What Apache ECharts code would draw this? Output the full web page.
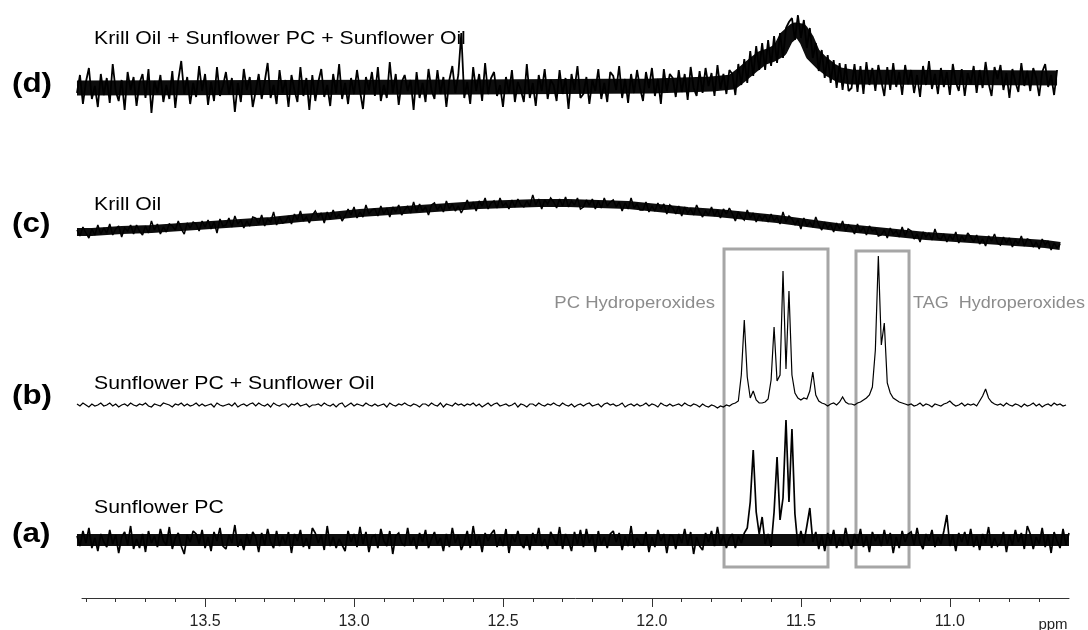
<!DOCTYPE html>
<html><head><meta charset="utf-8">
<script src="https://cdn.jsdelivr.net/npm/echarts@6/dist/echarts.min.js"></script>
<style>html,body{margin:0;padding:0;background:#fff}#c{width:1088px;height:630px}</style>
</head><body><div id="c"></div>
<script>
// ppm sampling of the traces (first point and spacing)
const PPM_START = 13.93, PPM_STEP = 0.01;
const majorTicks = [13.5, 13.0, 12.5, 12.0, 11.5, 11.0];
const minorTicks = [13.9,13.8,13.7,13.6,13.5,13.4,13.3,13.2,13.1,13.0,12.9,12.8,12.7,12.6,12.5,12.4,12.3,12.2,12.1,12.0,11.9,11.8,11.7,11.6,11.5,11.4,11.3,11.2,11.1,11.0,10.9,10.8,10.7];
const traceLabels = ["Krill Oil + Sunflower PC + Sunflower Oil", "Krill Oil", "Sunflower PC + Sunflower Oil", "Sunflower PC"];
const traceTags = ["(d)", "(c)", "(b)", "(a)"];
const regionLabels = ["PC Hydroperoxides", "TAG  Hydroperoxides"];
// vertical offsets of the stacked spectra (intensity units)
const offsets = [514, 367, 197, 62];
// boxed regions: ppm from/to, intensity low/high
const boxFrom = [11.758, 11.315];
const boxTo = [11.409, 11.137];
const boxLow = [35, 35];
const boxHigh = [353, 351];

// mean level (centre of the noise band) of each spectrum
const meanPpmD = [13.93, 12.6, 12.0, 11.80, 11.73, 11.70, 11.66, 11.63, 11.60, 11.57, 11.55, 11.52, 11.50, 11.48, 11.46, 11.43, 11.40, 11.37, 11.33, 10.64];
const meanD    = [0, 1, 2, 4, 6, 13, 23, 30, 33, 38, 50, 58, 57, 48, 34, 25, 18, 13, 11, 10];
const meanPpmC = [13.93, 13.88, 13.78, 13.68, 13.58, 13.48, 13.38, 13.28, 13.18, 13.08, 12.98, 12.88, 12.78, 12.68, 12.58, 12.48, 12.38, 12.28, 12.18, 12.08, 11.98, 11.88, 11.78, 11.68, 11.58, 11.48, 11.38, 11.28, 11.18, 11.08, 10.98, 10.88, 10.78, 10.68, 10.63];
const meanC    = [3, 3, 5, 6, 8, 10, 12, 14, 17, 19, 22, 24, 26, 28, 30, 31, 32, 32, 31, 30, 27, 24, 22, 19, 16, 12, 8, 5, 2, -1, -3, -5, -7, -9, -11];
const meanPpmA = [13.93, 10.60];
const meanA    = [0, 0];

// (d) Krill Oil + Sunflower PC + Sunflower Oil, 13.93 -> 10.64 ppm, step 0.01
const traceD = [
-5,13,-16,6,20,-11,2,-19,14,-7,
10,-15,24,-3,-13,8,-22,16,-2,11,
-18,5,14,-10,19,-25,7,-5,13,-14,
3,-11,17,-20,8,27,-6,11,-16,5,
-9,22,-3,14,-17,6,-13,21,-8,2,
16,-6,10,-24,5,-14,19,-2,11,-19,
-3,14,-11,6,25,-10,3,-16,18,-5,
8,-19,13,-2,-14,21,-8,10,-22,13,
-13,6,19,-9,3,-18,14,-5,24,-11,
5,-16,10,-6,18,-3,-21,11,-2,16,
-8,21,-13,3,-10,26,-5,14,-17,6,
13,-3,8,-22,16,-10,5,-14,19,-2,
-11,18,-6,11,-19,8,22,-5,13,55,
-10,6,-16,21,-3,14,-13,25,-6,10,
16,-8,3,-19,11,-5,18,-14,6,-2,
-14,24,-10,5,-18,13,-3,19,-11,8,
3,-13,18,-6,10,-21,14,-2,22,-10,
-6,11,-16,8,-3,19,-11,5,-14,16,
12,-2,22,-10,9,-15,14,-5,18,0,
-13,16,0,20,-8,9,-16,19,-3,14,
10,-9,18,-4,14,-12,21,0,-8,17,
-5,20,2,15,-8,23,-1,14,-6,18,
14,-7,24,3,29,5,37,12,42,18,
45,18,48,22,52,25,55,30,60,66,
70,48,73,50,68,40,60,30,45,17,
38,10,33,5,28,0,25,-2,24,-3,
0,24,-4,22,-6,26,3,20,-3,23,
7,-8,21,-2,25,1,16,-7,23,4,
18,-5,13,-9,22,3,27,-1,14,-6,
20,1,16,-7,24,6,-3,19,-8,15,
4,22,-5,18,0,26,5,-8,21,9,
23,-2,15,-10,19,6,-4,25,2,17,
-3,20,10,-8,16,24,1,13,-7,18
];

// (c) Krill Oil, 13.93 -> 10.63 ppm
const traceC = [
5,-1,8,2,-3,6,0,10,1,7,
2,11,0,6,9,-2,7,4,10,1,
10,4,0,9,2,14,5,11,1,8,
3,11,9,5,14,6,1,12,7,13,
11,4,14,8,15,6,13,2,16,9,
10,17,8,19,11,15,7,14,9,18,
17,11,20,9,16,13,23,10,18,12,
13,19,11,21,15,24,14,18,12,20,
24,18,22,12,23,16,25,17,21,14,
19,26,20,28,17,23,18,30,21,25,
26,19,29,21,27,18,28,23,30,20,
25,29,22,33,23,31,24,28,20,30,
32,25,30,23,34,26,31,24,29,22,
28,35,27,33,24,34,29,37,26,32,
34,27,37,29,32,26,35,28,36,30,
28,34,29,40,30,36,26,35,31,37,
33,27,36,29,38,28,34,30,37,26,
28,35,30,36,26,34,27,37,29,33,
35,28,33,24,32,26,37,27,31,25,
25,33,23,29,24,32,26,31,21,30,
27,21,29,19,28,22,26,20,30,23,
18,24,20,28,19,25,17,26,21,27,
21,14,23,18,15,25,17,22,13,20,
15,20,13,21,14,18,11,23,13,19,
16,10,15,6,17,9,13,8,18,10,
5,13,7,11,3,12,6,14,4,10,
7,1,11,3,8,0,9,4,6,-1,
0,5,-3,7,1,4,-2,8,-1,6,
4,-4,1,-7,3,-2,2,-5,6,-3,
-4,1,-7,0,-5,3,-8,-1,-6,2,
-2,-7,0,-9,-4,-11,-1,-6,1,-8,
-10,-2,-8,-3,-12,-5,-9,-1,-11,-4,
-5,-12,-7,-14,-4,-10,-6,-15,-8,-13,
-9
];

// (b) Sunflower PC + Sunflower Oil, 13.93 -> 10.61 ppm
const traceB = [
1,-1,2,0,-2,1,-1,0,2,-1,
0,2,-1,1,-2,0,1,-1,2,0,
-1,1,0,2,-1,-2,1,0,-1,2,
1,0,-2,1,0,2,-1,1,-1,0,
2,-1,1,-1,0,1,-2,2,0,-1,
0,1,-1,2,-2,0,1,-1,1,2,
-1,2,0,-1,1,-2,2,0,-1,1,
1,-2,1,0,2,-1,0,1,-2,0,
0,1,-1,2,0,-1,1,-2,1,2,
-2,0,2,-1,1,0,-1,2,0,-1,
1,-1,0,1,-2,2,0,-1,1,0,
2,0,-1,1,0,-2,1,1,-1,2,
0,-1,2,-2,1,0,-1,2,0,1,
-1,1,0,2,-1,1,-2,0,2,-1,
1,2,-1,0,1,-1,0,2,-2,1,
0,-2,1,1,-1,2,0,-1,1,0,
2,0,-1,2,0,-1,1,-2,0,1,
-1,1,2,-1,0,1,-2,1,2,0,
1,-1,0,2,-2,0,1,-1,1,-1,
0,2,-1,1,0,-2,2,0,-1,1,
-1,0,1,-1,2,0,-1,1,0,-2,
1,-1,-2,0,-1,-3,-1,-2,0,-1,
1,2,4,30,85,28,7,14,5,2,
2,3,6,25,78,24,30,134,36,114,
30,12,7,5,7,6,14,33,10,4,
2,1,-1,1,2,0,3,8,3,1,
1,0,2,3,5,7,10,18,55,149,
60,82,22,12,7,5,3,2,1,0,
1,-1,0,2,-1,1,0,-2,1,0,
-1,1,2,4,1,-1,0,2,-1,1,
0,1,-1,4,9,16,7,3,1,0,
1,-1,2,0,-1,1,0,-2,1,-1,
0,2,-1,1,-2,0,1,-1,2,0,
1,-1,0
];

// (a) Sunflower PC, 13.93 -> 10.60 ppm
const traceA = [
4,-6,9,-3,12,-8,2,-11,6,-2,
-7,10,-4,5,-13,3,8,-5,14,-9,
1,-8,6,-12,9,-3,4,-7,11,-1,
-5,13,-9,2,7,-6,-14,5,-2,9,
6,-4,10,-8,3,-11,8,-1,12,-6,
-9,5,-3,15,-7,1,-10,6,-4,8,
3,-12,7,-5,11,-2,-8,9,-6,4,
-4,8,-13,6,-1,10,-7,2,-9,12,
7,-3,5,-10,14,-6,3,-8,1,-5,
-11,9,-2,6,-7,13,-4,8,-12,3,
5,-8,11,-1,-6,9,-14,4,7,-3,
-6,12,-5,3,-9,7,-2,10,-8,1,
8,-4,2,-11,6,-7,12,-3,5,-10,
-2,9,-8,14,-5,4,-12,7,-1,6,
10,-7,3,-6,11,-13,5,-2,9,-4,
-8,4,-10,7,-3,12,-6,1,-9,8,
2,-5,13,-9,6,-1,-11,8,-4,10,
-7,11,-3,5,-12,9,-5,3,-8,6,
9,-2,7,-10,4,-6,14,-8,2,-4,
-5,8,-12,3,-7,10,-1,6,-13,5,
4,-9,6,-3,11,-5,8,-14,3,-6,
-10,7,-2,9,-6,13,-4,5,-8,2,
6,-8,4,-3,7,12,38,90,28,6,
23,-4,6,-7,28,83,20,42,120,38,
111,26,-6,9,-3,14,32,-2,8,-9,
5,-11,7,-4,10,-8,3,-6,12,-2,
-9,6,-3,11,-7,4,-12,8,-1,5,
-6,10,-4,7,-13,3,-8,9,-2,6,
8,-5,12,-3,-9,6,-1,10,-7,3,
-4,9,25,-6,5,-11,7,-2,8,-5,
11,-7,4,-10,6,-3,13,-8,2,-6,
-3,8,-12,5,-5,10,-2,7,-9,14,
6,-9,3,-4,12,-7,5,-13,8,-1,
-8,11,-5,7
];

const traces = [traceD, traceC, traceB, traceA];
const lineWidths = [1.8, 1.5, 1.2, 1.7];
// [ppm list, mean list, trace index, core stroke]
const means = [[meanPpmD, meanD, 0, 15], [meanPpmC, meanC, 1, 8], [meanPpmA, meanA, 3, 12]];

function toPairs(vals, off) {
  return vals.map((v, i) => [+(PPM_START - i * PPM_STEP).toFixed(2), v + off]);
}

const FONT = '"Liberation Sans", Arial, Helvetica, sans-serif';
const chart = echarts.init(document.getElementById('c'), null, { renderer: 'canvas' });

const series = [];
// dense noise core drawn as a thick stroke along the mean level
means.forEach(([p, m, k, core]) => series.push({
  type: 'line', xAxisIndex: 0, yAxisIndex: 0,
  data: p.map((x, i) => [x, m[i] + offsets[k]]),
  showSymbol: false, symbol: 'none',
  lineStyle: { color: '#0d0d0d', width: core, cap: 'butt', join: 'round' },
  silent: true, z: 2
}));
traces.forEach((t, k) => series.push({
  type: 'line',
  xAxisIndex: 0, yAxisIndex: 0,
  data: toPairs(t, offsets[k]),
  showSymbol: false, symbol: 'none',
  lineStyle: { color: '#000', width: lineWidths[k], join: 'miter', miterLimit: 2 },
  silent: true, z: 3
}));
series.push({
  type: 'line', xAxisIndex: 0, yAxisIndex: 0, data: [], silent: true,
  markArea: {
    silent: true,
    itemStyle: { color: 'rgba(0,0,0,0)', borderColor: '#a6a6a6', borderWidth: 3 },
    label: { show: false },
    data: boxFrom.map((f, i) => [{ xAxis: f, yAxis: boxLow[i] }, { xAxis: boxTo[i], yAxis: boxHigh[i] }])
  },
  z: 4
});

const tagY = [84, 224, 396, 534];
const lblY = [39, 205, 384, 508];
const graphics = [];
traceTags.forEach((t, i) => graphics.push({
  type: 'text', x: 12, y: tagY[i], scaleX: 1.12,
  style: { text: t, font: 'bold 28px ' + FONT, fill: '#000', verticalAlign: 'middle', textVerticalAlign: 'middle' }
}));
traceLabels.forEach((t, i) => graphics.push({
  type: 'text', x: 94, y: lblY[i], scaleX: 1.18,
  style: { text: t, font: '18px ' + FONT, fill: '#000', verticalAlign: 'middle', textVerticalAlign: 'middle' }
}));
graphics.push({
  type: 'text', x: 715, y: 303, scaleX: 1.09,
  style: { text: regionLabels[0], font: '17px ' + FONT, fill: '#8c8c8c', align: 'right', textAlign: 'right', verticalAlign: 'middle', textVerticalAlign: 'middle' }
});
graphics.push({
  type: 'text', x: 913, y: 303, scaleX: 1.06,
  style: { text: regionLabels[1], font: '17px ' + FONT, fill: '#8c8c8c', verticalAlign: 'middle', textVerticalAlign: 'middle' }
});
graphics.push({
  type: 'text', x: 1053, y: 625,
  style: { text: 'ppm', font: '15px ' + FONT, fill: '#222', align: 'center', textAlign: 'center', verticalAlign: 'middle', textVerticalAlign: 'middle' }
});

chart.setOption({
  animation: false,
  backgroundColor: '#fff',
  grid: [
    { left: 74, right: 19, top: 2, bottom: 28 },
    { left: 82, right: 19, top: 2, bottom: 28 }
  ],
  xAxis: [
    { gridIndex: 0, type: 'value', min: 10.6, max: 13.94, inverse: true, show: false },
    { gridIndex: 1, type: 'value', min: 10.6, max: 13.9131, inverse: true, position: 'bottom',
      axisLine: { show: true, onZero: false, lineStyle: { color: '#333', width: 1 } },
      axisTick: { show: true, customValues: majorTicks, length: 9, lineStyle: { color: '#333', width: 1 } },
      axisLabel: { show: true, customValues: majorTicks, formatter: v => Number(v).toFixed(1), fontSize: 16, fontFamily: FONT, color: '#222', margin: 16 },
      splitLine: { show: false } },
    { gridIndex: 1, type: 'value', min: 10.6, max: 13.9131, inverse: true, position: 'bottom',
      axisLine: { show: false, onZero: false },
      axisTick: { show: true, customValues: minorTicks, length: 4, lineStyle: { color: '#333', width: 1 } },
      axisLabel: { show: false },
      splitLine: { show: false } }
  ],
  yAxis: [
    { gridIndex: 0, type: 'value', min: 0, max: 600, show: false },
    { gridIndex: 1, type: 'value', min: 0, max: 600, show: false }
  ],
  series: series,
  graphic: graphics
});
</script>
</body></html>
